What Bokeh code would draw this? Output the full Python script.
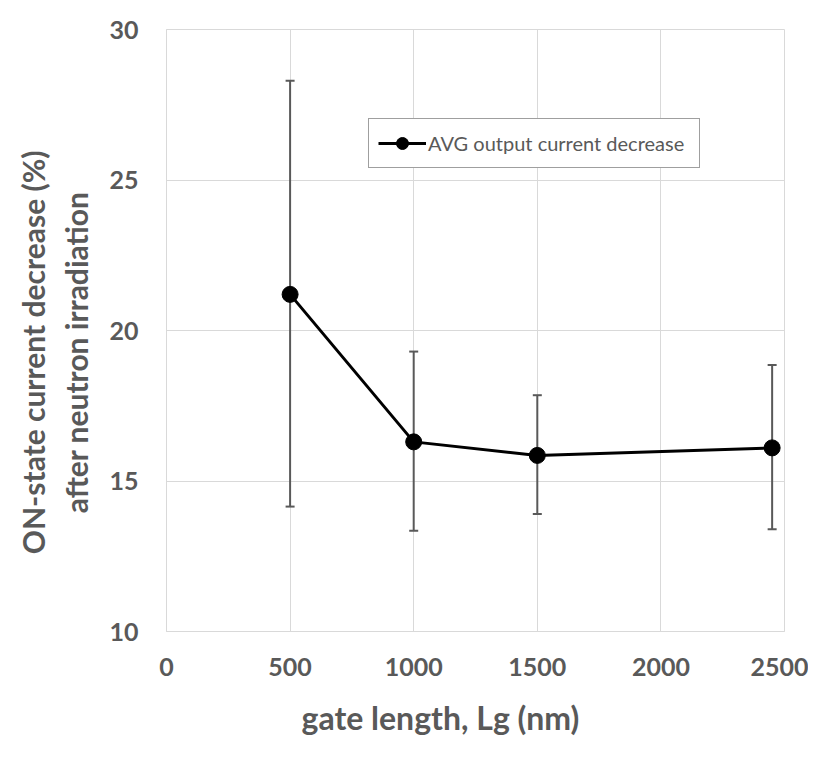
from bokeh.plotting import figure
from bokeh.models import ColumnDataSource, Whisker, TeeHead, Legend, LegendItem, Range1d, FixedTicker, Title
from bokeh.embed import file_html
from bokeh.resources import INLINE

gate_length = [500, 1000, 1500, 2450]
avg_decrease = [21.2, 16.3, 15.85, 16.1]
err_upper = [28.3, 19.3, 17.85, 18.85]
err_lower = [14.15, 13.35, 13.9, 13.4]
x_ticks = [0, 500, 1000, 1500, 2000, 2500]
y_ticks = [10, 15, 20, 25, 30]

src = ColumnDataSource(data=dict(x=gate_length, y=avg_decrease, up=err_upper, lo=err_lower))

FONT = "Lato"
GRAY = "#595959"
GRID = "#d9d9d9"
PAD = "\u00a0" * 6

p = figure(width=808, height=758, output_backend="svg", toolbar_location=None,
           x_range=Range1d(0, 2500), y_range=Range1d(10, 30),
           min_border_left=166, min_border_right=24, min_border_top=29, min_border_bottom=127)
p.outline_line_color = GRID
p.background_fill_color = "white"
p.border_fill_color = "white"

for ax in (p.xaxis[0], p.yaxis[0]):
    ax.major_tick_line_color = None
    ax.minor_tick_line_color = None
    ax.axis_line_color = GRID
    ax.major_label_text_font = FONT
    ax.major_label_text_font_style = "bold"
    ax.major_label_text_font_size = "25px"
    ax.major_label_text_color = GRAY
    ax.axis_label_text_font = FONT
    ax.axis_label_text_font_style = "bold"
    ax.axis_label_text_font_size = "30px"
    ax.axis_label_text_color = GRAY

p.xaxis.ticker = FixedTicker(ticks=x_ticks)
p.yaxis.ticker = FixedTicker(ticks=y_ticks)
p.xaxis.major_label_standoff = 20
p.yaxis.major_label_standoff = 22
p.yaxis.axis_label = "ON-state current decrease (%)" + PAD + "\nafter neutron irradiation" + PAD
p.yaxis.axis_label_standoff = 12

x_title = Title(text="gate length, Lg (nm)", align="left", offset=135,
                text_font=FONT, text_font_style="bold", text_font_size="32px",
                text_color=GRAY, standoff=34)
p.add_layout(x_title, "below")

p.xgrid.ticker = FixedTicker(ticks=x_ticks)
p.ygrid.ticker = FixedTicker(ticks=y_ticks)
p.xgrid.grid_line_color = GRID
p.ygrid.grid_line_color = GRID

w = Whisker(source=src, base="x", upper="up", lower="lo", dimension="height",
            line_color=GRAY, line_width=2,
            upper_head=TeeHead(size=9, line_color=GRAY, line_width=2),
            lower_head=TeeHead(size=9, line_color=GRAY, line_width=2))
p.add_layout(w)

ln = p.line("x", "y", source=src, line_color="black", line_width=3)
sc = p.scatter("x", "y", source=src, size=16, marker="circle", fill_color="black", line_color="black")

legend = Legend(items=[LegendItem(label="AVG output current decrease", renderers=[ln, sc])],
                location=(202, 463), border_line_color="#404040", border_line_width=1,
                label_text_font=FONT, label_text_font_size="20px", label_text_color=GRAY,
                glyph_width=48, glyph_height=30, padding=9, margin=0, label_standoff=2,
                label_width=262, background_fill_alpha=1)
p.add_layout(legend, "center")

open("out.html", "w").write(file_html(p, INLINE))
